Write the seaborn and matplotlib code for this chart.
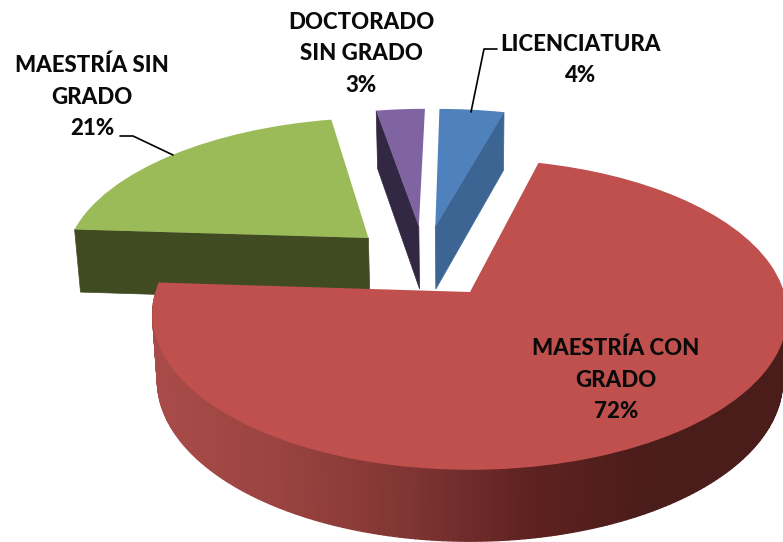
import numpy as np
import matplotlib
matplotlib.use("Agg")
import matplotlib.pyplot as plt
import seaborn as sns
from matplotlib.colors import LinearSegmentedColormap
from matplotlib.transforms import Transform

# Data (clockwise from 12 o'clock)
labels = ["LICENCIATURA\n4%", "MAESTRÍA CON\nGRADO\n72%", "MAESTRÍA SIN\nGRADO\n21%", "DOCTORADO\nSIN GRADO\n3%"]
values = [4, 72, 21, 3]
top_colors = ["#4F81BD", "#C0504D", "#9BBB59", "#8064A2"]
wall_colors = ["#3D6593", "#7E3432", "#404B22", "#332843"]
red_wall_stops = ["#A94C49", "#9A4340", "#803634", "#5E2220", "#4A1C1A", "#4A1C1A"]

label_x = [581, 616, 92, 361]
label_y = [60, 380, 97, 54]

# view of the pie: perspective squash, pixels
APEX_X, APEX_Y = 470, 292
RX, RY = 314, 152
PERSP = 0.145
DEPTH = 65
EXPLODE = 0.255

sns.set_theme(style="white")
plt.rcParams["font.family"] = ["Lato", "DejaVu Sans"]

fig = plt.figure(figsize=(7.83, 5.42), dpi=100)
ax = fig.add_axes([0, 0, 1, 1])

wedges, _ = ax.pie(values, colors=top_colors, startangle=90, counterclock=False,
                   explode=[EXPLODE] * len(values))
off = wedges[1].center


def project(x, y, drop=0.0):
    u = np.asarray(x) - off[0]
    v = np.asarray(y) - off[1]
    w = 1 + PERSP * v
    sx = APEX_X + RX * u / w
    sy = APEX_Y - RY * v / w
    if drop:
        sx = APEX_X + (sx - APEX_X) * (1 - 0.015 * drop)
        sy = sy + drop * DEPTH / w ** 0.6
    return sx, sy


class PieView(Transform):
    input_dims = 2
    output_dims = 2

    def transform_non_affine(self, values):
        sx, sy = project(values[:, 0], values[:, 1])
        return np.column_stack([sx, sy])


view = PieView()
red_cmap = LinearSegmentedColormap.from_list("redwall", red_wall_stops)

# back slices first, the big red one last
draw_order = [2, 3, 0, 1]
z = 2
for i in draw_order:
    wd = wedges[i]
    cx, cy = wd.center
    t = np.radians(np.linspace(wd.theta1, wd.theta2, 300))
    ax_x = cx + np.cos(t)
    ax_y = cy + np.sin(t)
    tx, ty = project(ax_x, ax_y)
    bx, by = project(ax_x, ax_y, drop=1)
    ctx, cty = project(cx, cy)
    cbx, cby = project(cx, cy, drop=1)

    # straight cut walls, only the ones turned towards the viewer
    for normal_v, j in [(-np.cos(t[0]), 0), (np.cos(t[-1]), -1)]:
        if normal_v < -0.01:
            ax.fill([ctx, tx[j], bx[j], cbx], [cty, ty[j], by[j], cby], color=wall_colors[i], lw=0.5, zorder=z)
    # outer rim of the big slice, shaded in strips
    if i == 1:
        for k in range(len(t) - 1):
            if np.sin(t[k]) > -0.1 and np.cos(t[k]) > 0:
                continue
            if np.sin(t[k]) > 0.2:
                continue
            shade = red_cmap(np.clip((tx[k] - 150) / 630, 0, 1))
            ax.fill([tx[k], tx[k + 1], bx[k + 1], bx[k]], [ty[k], ty[k + 1], by[k + 1], by[k]],
                    color=shade, lw=1.0, zorder=z)
    z += 1
    wd.set_transform(view + ax.transData)
    wd.set_zorder(z)
    wd.set_linewidth(0)
    z += 1

ax.set_aspect("auto")
ax.set_xlim(0, 783)
ax.set_ylim(542, 0)
ax.axis("off")

# leader lines
ax.plot([497, 484, 471], [49, 49, 112], color="black", lw=1.2, zorder=30)
ax.plot([120, 133, 173], [136, 136, 155], color="black", lw=1.2, zorder=30)

for txt, x, y in zip(labels, label_x, label_y):
    ax.text(x, y, txt, ha="center", va="center", fontsize=16, fontweight="black",
            color="#0a0a0a", linespacing=1.62, zorder=31)

fig.savefig("out.png", dpi=100)
